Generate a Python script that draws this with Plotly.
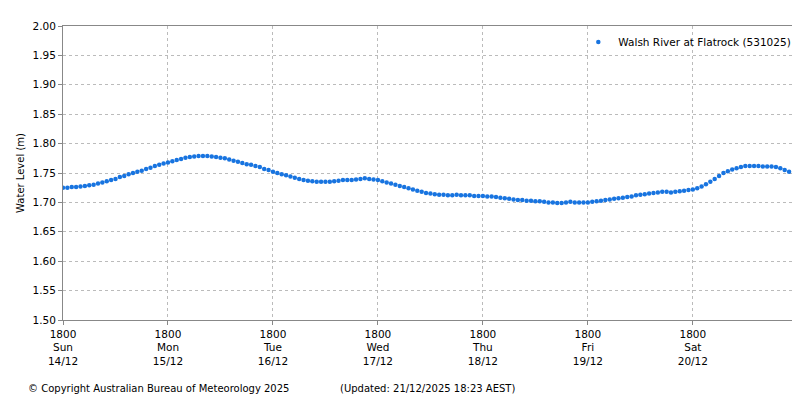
import pandas as pd
import plotly.graph_objects as go

START = "2025-12-14 18:00"

# hourly water level readings (m), from 14/12 18:00
levels = [
    1.725, 1.725, 1.726, 1.726, 1.727, 1.728, 1.729, 1.730, 1.732, 1.734, 1.736, 1.738,
    1.740, 1.743, 1.745, 1.748, 1.750, 1.752, 1.754, 1.757, 1.759, 1.762, 1.764, 1.766,
    1.768, 1.770, 1.772, 1.774, 1.776, 1.777, 1.778, 1.779, 1.779, 1.779, 1.778, 1.777,
    1.776, 1.775, 1.773, 1.771, 1.769, 1.767, 1.765, 1.764, 1.762, 1.760, 1.757, 1.755,
    1.752, 1.750, 1.748, 1.746, 1.744, 1.742, 1.740, 1.738, 1.737, 1.736, 1.735, 1.735,
    1.735, 1.735, 1.736, 1.737, 1.738, 1.738, 1.738, 1.739, 1.740, 1.741, 1.740, 1.739,
    1.738, 1.736, 1.734, 1.732, 1.730, 1.728, 1.726, 1.724, 1.722, 1.720, 1.718, 1.716,
    1.715, 1.714, 1.713, 1.713, 1.712, 1.712, 1.713, 1.712, 1.712, 1.712, 1.711, 1.711,
    1.711, 1.710, 1.710, 1.709, 1.708, 1.707, 1.706, 1.705, 1.704, 1.704, 1.703, 1.703,
    1.702, 1.702, 1.701, 1.700, 1.700, 1.699, 1.699, 1.700, 1.701, 1.700, 1.700, 1.700,
    1.700, 1.701, 1.702, 1.703, 1.704, 1.705, 1.706, 1.707, 1.708, 1.709, 1.710, 1.712,
    1.713, 1.714, 1.715, 1.716, 1.717, 1.718, 1.718, 1.717, 1.718, 1.719, 1.720, 1.721,
    1.722, 1.724, 1.727, 1.731, 1.735, 1.740, 1.745, 1.750, 1.753, 1.756, 1.758, 1.760,
    1.762, 1.762, 1.762, 1.762, 1.761, 1.761, 1.761, 1.760, 1.758, 1.755, 1.752,
]
times = pd.date_range(START, periods=len(levels), freq="h")

tick_days = ["Sun", "Mon", "Tue", "Wed", "Thu", "Fri", "Sat"]
tick_dates = ["14/12", "15/12", "16/12", "17/12", "18/12", "19/12", "20/12"]
tick_vals = pd.date_range(START, periods=7, freq="D")
tick_text = [f"1800<br>{d}<br>{dt}" for d, dt in zip(tick_days, tick_dates)]

fig = go.Figure(go.Scatter(
    x=times, y=levels, mode="markers",
    marker=dict(color="#1874e0", size=4.5),
    name="Walsh River at Flatrock (531025)",
))

grid = dict(showgrid=True, gridcolor="#bbbbbb", griddash="dot", gridwidth=1,
            showline=True, linecolor="#888888", mirror=True, ticks="outside",
            ticklen=4, tickcolor="#888888", zeroline=False, automargin=False)

# plot area in pixels: left 55, right 792, top 18, bottom 312
fig.update_layout(
    width=800, height=400,
    margin=dict(l=55, r=8, t=18, b=88, autoexpand=False),
    plot_bgcolor="white", paper_bgcolor="white",
    font=dict(family="DejaVu Sans", size=10.5, color="black"),
    showlegend=True,
    legend=dict(x=0.995, y=0.995, xanchor="right", yanchor="top",
                bgcolor="rgba(0,0,0,0)", font=dict(size=10.5),
                itemwidth=30, tracegroupgap=0),
    xaxis=dict(range=[pd.Timestamp(START), pd.Timestamp("2025-12-21 18:30")],
               tickvals=tick_vals, ticktext=tick_text, **grid),
    yaxis=dict(range=[1.5, 2.0], dtick=0.05, tickformat=".2f",
               title=dict(text="Water Level (m)", font=dict(size=10), standoff=6), **grid),
    annotations=[
        dict(text="© Copyright Australian Bureau of Meteorology 2025",
             x=-37 / 737, y=-68 / 294, xref="paper", yref="paper", showarrow=False,
             xanchor="left", yanchor="middle", font=dict(size=10)),
        dict(text="(Updated: 21/12/2025 18:23 AEST)",
             x=275 / 737, y=-68 / 294, xref="paper", yref="paper", showarrow=False,
             xanchor="left", yanchor="middle", font=dict(size=10)),
    ],
)

fig.write_html("out.html")
